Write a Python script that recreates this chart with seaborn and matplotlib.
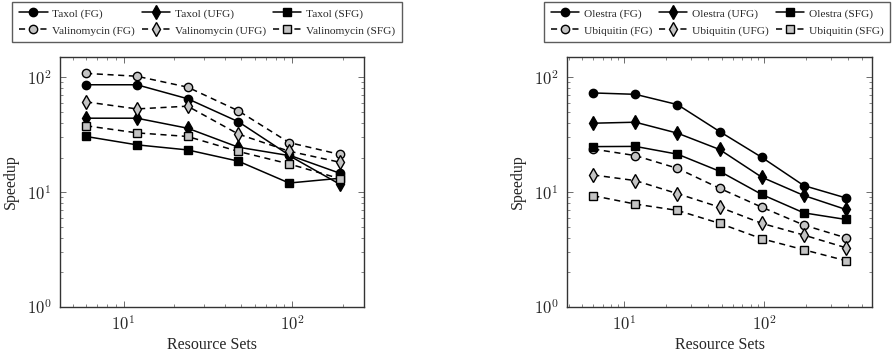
import numpy as np
import pandas as pd
import matplotlib
matplotlib.use("Agg")
import matplotlib.pyplot as plt
import seaborn as sns
from matplotlib.ticker import LogLocator, FuncFormatter, NullFormatter

# ---- data ----
left_x = [6, 12, 24, 48, 96, 192]
taxol_fg = [86, 86, 65, 41, 21, 14.6]
taxol_ufg = [44, 44, 36, 24.6, 20.8, 11.7]
taxol_sfg = [30.5, 25.8, 23.3, 18.6, 12.0, 13.2]
valino_fg = [108, 102, 82, 51, 27, 21.3]
valino_ufg = [61, 53, 56, 32, 22.7, 18.2]
valino_sfg = [37.8, 32.8, 30.5, 22.6, 17.6, 13.1]

right_x = [6, 12, 24, 48, 96, 192, 384]
olestra_fg = [73, 71, 57.8, 33.7, 20.1, 11.4, 8.9]
olestra_ufg = [39.8, 40.6, 32.6, 23.5, 13.5, 9.35, 7.06]
olestra_sfg = [24.9, 25.0, 21.4, 15.2, 9.55, 6.6, 5.78]
ubiq_fg = [23.7, 20.8, 16.1, 10.8, 7.4, 5.17, 4.0]
ubiq_ufg = [14.1, 12.6, 9.7, 7.4, 5.35, 4.23, 3.28]
ubiq_sfg = [9.3, 7.87, 6.93, 5.35, 3.93, 3.15, 2.53]

sns.set_theme(style="ticks")
plt.rcParams["font.family"] = ["Liberation Serif", "DejaVu Serif"]
plt.rcParams["mathtext.fontset"] = "cm"

GRAY = "#c4c4c4"
SIZES = {"o": 6, "d": 7.5, "s": 5.5}


def draw(ax, x, series, xlim):
    # series: list of (label, values, marker, solid?)
    for label, vals, marker, solid in series:
        sns.lineplot(x=x, y=vals, ax=ax, color="black", marker=marker,
                     markersize=SIZES[marker],
                     markerfacecolor="black" if solid else GRAY,
                     markeredgecolor="black", markeredgewidth=1.0,
                     linewidth=1.1, linestyle="-" if solid else (0, (4, 3)),
                     label=label, sort=False, errorbar=None, legend=False)
    ax.set_xscale("log")
    ax.set_yscale("log")
    ax.set_xlim(*xlim)
    ax.set_ylim(1, 150)
    fmt = FuncFormatter(lambda v, p: r"$10^{%d}$" % round(np.log10(v)))
    ax.xaxis.set_major_locator(LogLocator(base=10))
    ax.yaxis.set_major_locator(LogLocator(base=10))
    ax.xaxis.set_major_formatter(fmt)
    ax.yaxis.set_major_formatter(fmt)
    ax.xaxis.set_minor_locator(LogLocator(base=10, subs=np.arange(2, 10)))
    ax.yaxis.set_minor_locator(LogLocator(base=10, subs=np.arange(2, 10)))
    ax.xaxis.set_minor_formatter(NullFormatter())
    ax.yaxis.set_minor_formatter(NullFormatter())
    ax.tick_params(which="both", direction="in", top=True, right=True,
                   color="#555555", labelsize=12)
    ax.tick_params(which="major", length=4, width=0.6, pad=6)
    ax.tick_params(which="minor", length=2, width=0.5)
    for s in ax.spines.values():
        s.set_linewidth(1.0)
        s.set_color("#333333")
    ax.set_xlabel("Resource Sets", fontsize=11.5, labelpad=2)
    ax.set_ylabel("Speedup", fontsize=11.5, labelpad=6)


fig = plt.figure(figsize=(8.93, 3.53), dpi=100)
ax1 = fig.add_axes([0.0672, 0.1303, 0.3404, 0.7082])
ax2 = fig.add_axes([0.635, 0.1303, 0.3415, 0.7082])

left_series = [
    ("Taxol (FG)", taxol_fg, "o", True),
    ("Valinomycin (FG)", valino_fg, "o", False),
    ("Taxol (UFG)", taxol_ufg, "d", True),
    ("Valinomycin (UFG)", valino_ufg, "d", False),
    ("Taxol (SFG)", taxol_sfg, "s", True),
    ("Valinomycin (SFG)", valino_sfg, "s", False),
]
right_series = [
    ("Olestra (FG)", olestra_fg, "o", True),
    ("Ubiquitin (FG)", ubiq_fg, "o", False),
    ("Olestra (UFG)", olestra_ufg, "d", True),
    ("Ubiquitin (UFG)", ubiq_ufg, "d", False),
    ("Olestra (SFG)", olestra_sfg, "s", True),
    ("Ubiquitin (SFG)", ubiq_sfg, "s", False),
]

draw(ax1, left_x, left_series, (4.2, 267))
draw(ax2, right_x, right_series, (3.9, 590))

for ax, cx in [(ax1, 207 / 893), (ax2, 717 / 893)]:
    h, l = ax.get_legend_handles_labels()
    fig.legend(h, l, loc="center", bbox_to_anchor=(cx, 1 - 22 / 353), ncol=3,
               fontsize=8.2, frameon=True, fancybox=False, edgecolor="#333333",
               handlelength=2.5, columnspacing=0.6, handletextpad=0.4,
               borderpad=0.6, labelspacing=0.6)

fig.savefig("out.png", dpi=100)
